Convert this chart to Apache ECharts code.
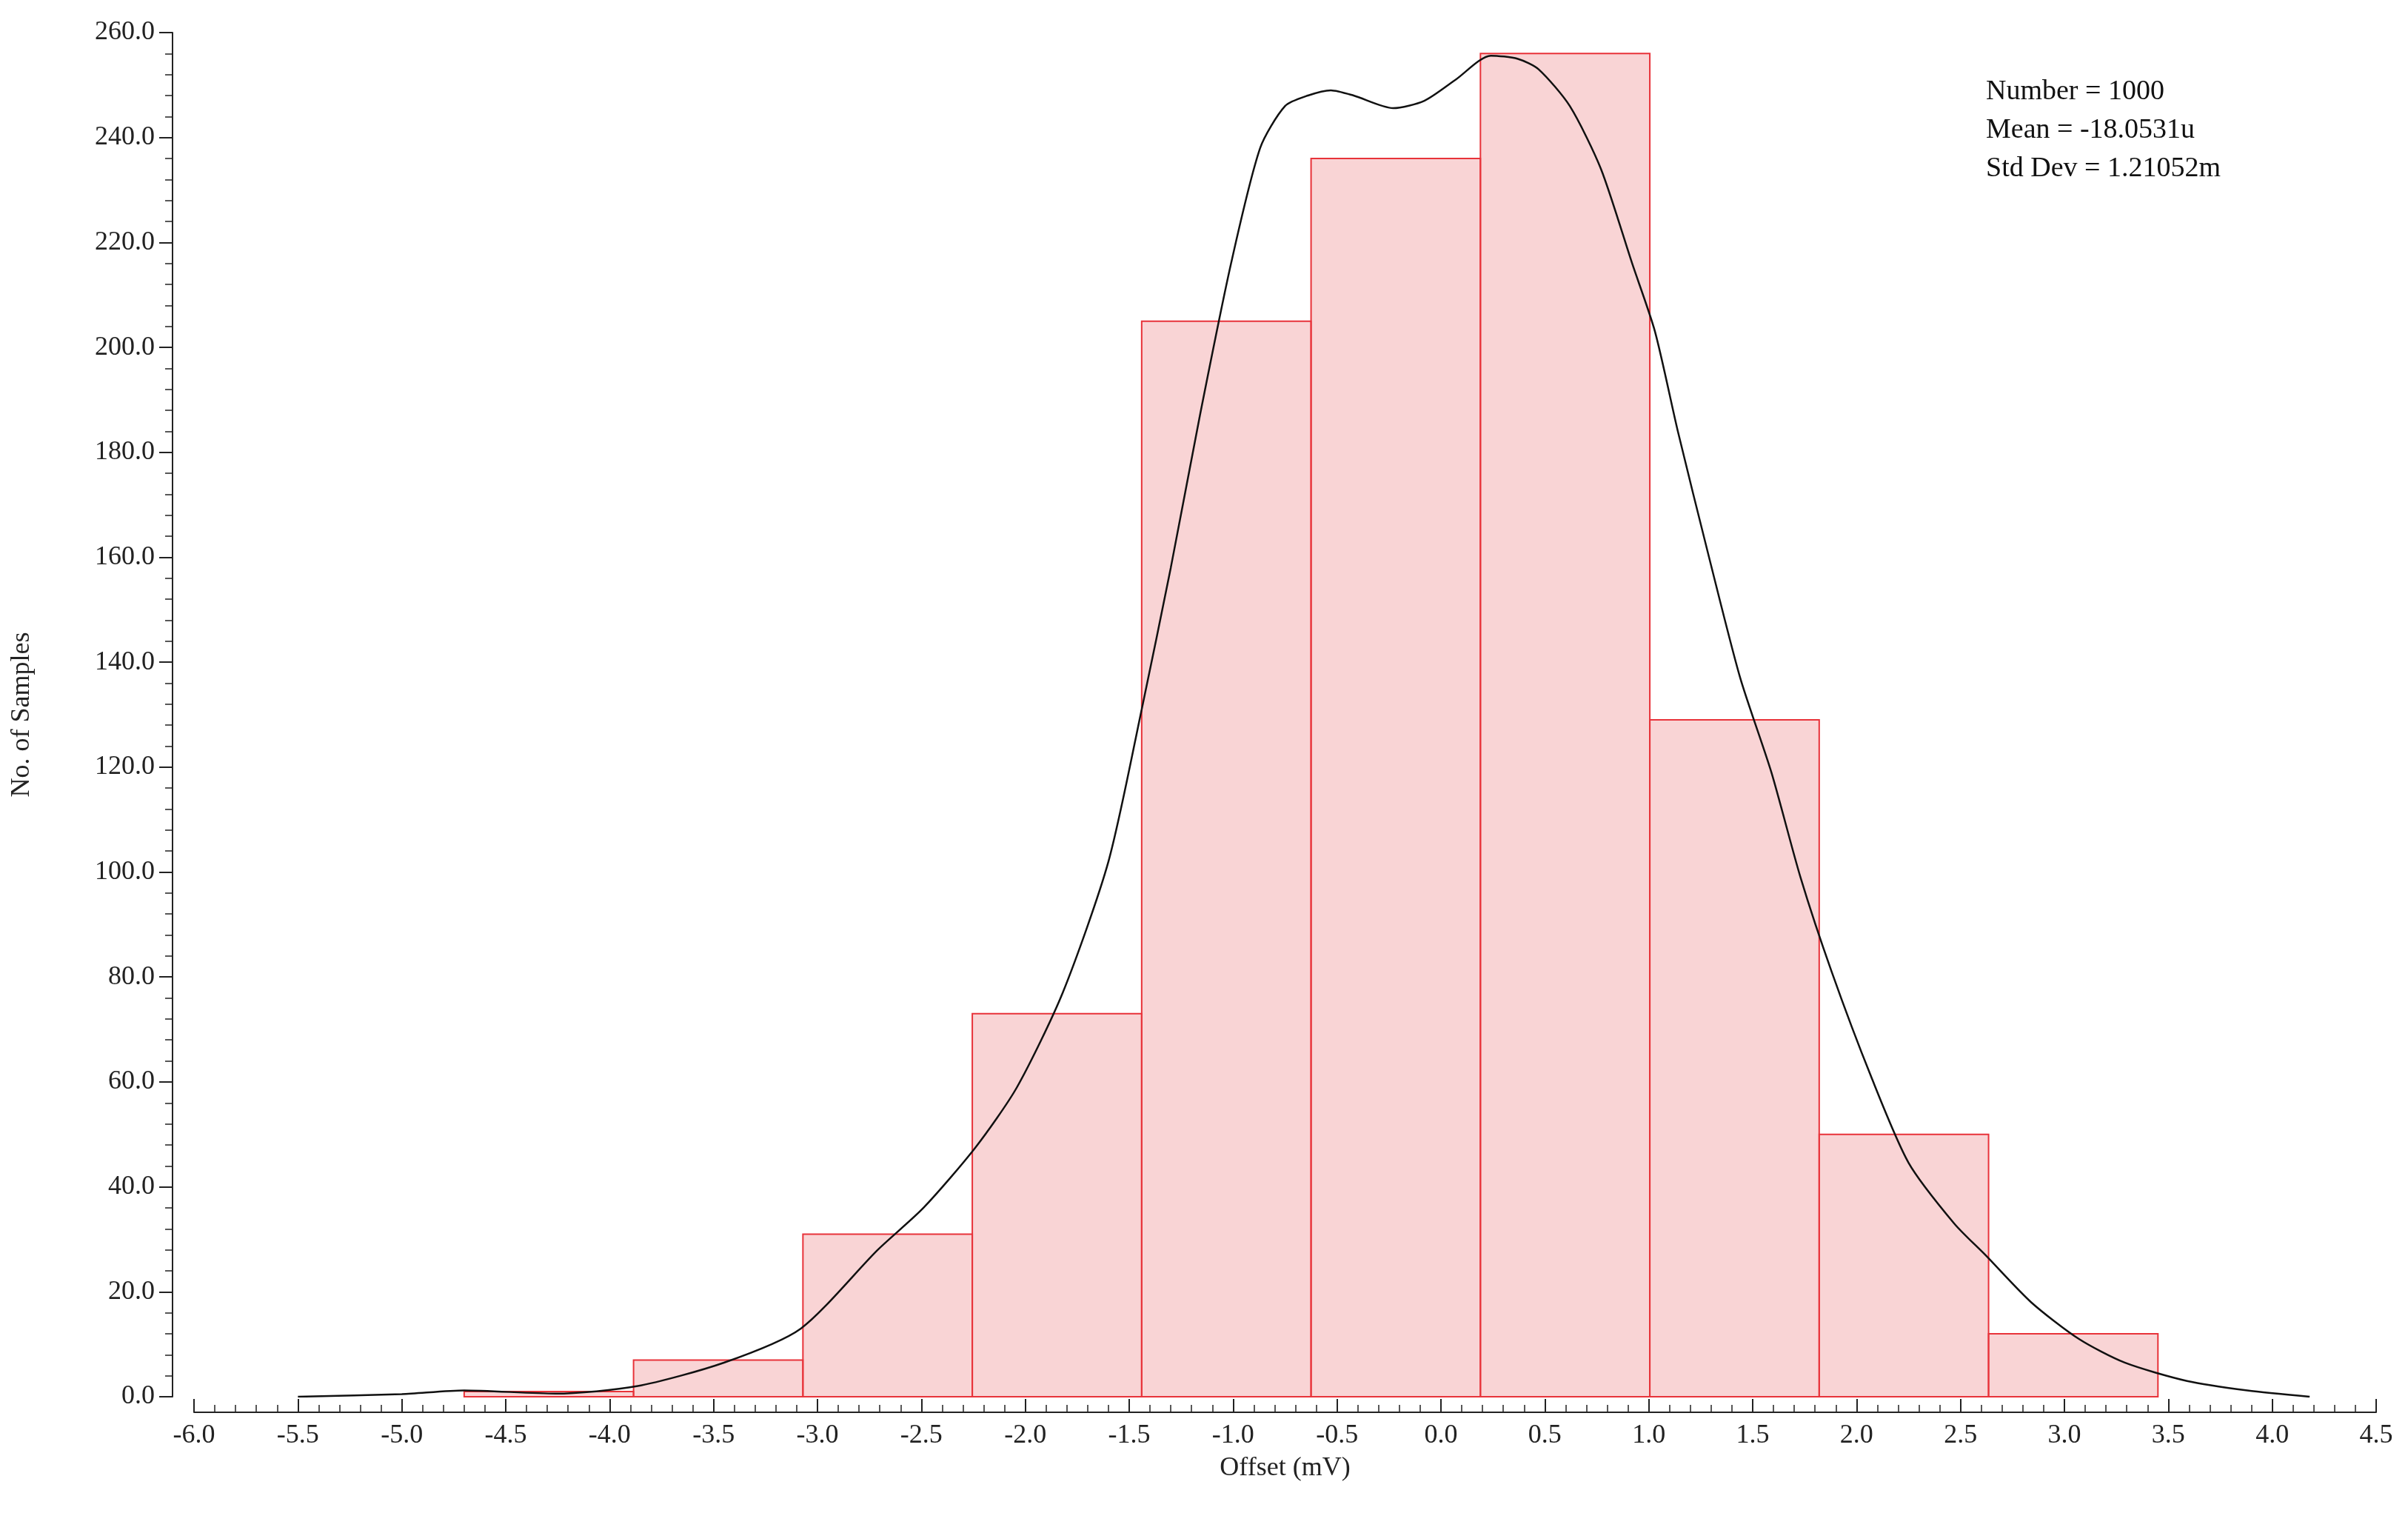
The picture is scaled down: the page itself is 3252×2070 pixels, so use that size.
<!DOCTYPE html>
<html><head><meta charset="utf-8">
<script src="https://cdn.jsdelivr.net/npm/echarts@6/dist/echarts.min.js"></script>
<style>html,body{margin:0;padding:0;background:#fff}#c{width:3252px;height:2070px}</style>
</head><body><div id="c"></div>
<script>
const binStarts = [-4.70,-3.885,-3.07,-2.255,-1.44,-0.625,0.19,1.005,1.82,2.635];
const binWidth = 0.815;
const counts = [1,7,31,73,205,236,256,129,50,12];
const curveX = [-5.5,-5.0,-4.7,-4.26,-3.87,-3.45,-3.08,-2.71,-2.49,-2.24,-2.04,-1.82,-1.6,-1.44,-1.3,-1.16,-1.01,-0.87,-0.75,-0.64,-0.53,-0.42,-0.23,-0.08,0.07,0.24,0.37,0.47,0.62,0.77,0.92,1.03,1.14,1.29,1.44,1.59,1.73,1.88,2.07,2.25,2.47,2.62,2.84,3.07,3.29,3.59,3.88,4.18];
const curveY = [0,0.5,1.2,0.6,2,6.5,13,28,36,47.5,59,77,102,131,158,187,216,238,246,248,249,248,245.6,247,251,255.6,255,253,246,234,216,203,184,160,137,119,99,81,61,44.6,33,27,18,11,6.5,3,1.2,0];
const statsText = ['Number = 1000','Mean = -18.0531u','Std Dev = 1.21052m'];

const font = 'Liberation Serif';
const chart = echarts.init(document.getElementById('c'));
const barData = binStarts.map((s,i)=>[s, s+binWidth, counts[i]]);
chart.setOption({
  animation:false,
  grid:{left:262,right:43,top:44,bottom:184},
  xAxis:{type:'value',min:-6,max:4.5,interval:0.5,offset:21,
    name:'Offset (mV)',nameLocation:'middle',nameGap:58,
    nameTextStyle:{fontFamily:font,fontSize:36,color:'#222'},
    axisLine:{onZero:false,lineStyle:{color:'#222',width:2}},
    axisTick:{inside:true,length:18,lineStyle:{color:'#222',width:2}},
    minorTick:{show:true,splitNumber:5,length:10,lineStyle:{color:'#222',width:1.5}},
    axisLabel:{fontFamily:font,fontSize:36,color:'#222',margin:14,formatter:v=>v.toFixed(1)},
    splitLine:{show:false}},
  yAxis:{type:'value',min:0,max:260,interval:20,offset:29,position:'left',
    name:'No. of Samples',nameLocation:'middle',nameGap:185,nameRotate:90,
    nameTextStyle:{fontFamily:font,fontSize:36,color:'#222'},
    axisLine:{show:true,onZero:false,lineStyle:{color:'#222',width:2}},
    axisTick:{show:true,length:18,lineStyle:{color:'#222',width:2}},
    minorTick:{show:true,splitNumber:5,length:10,lineStyle:{color:'#222',width:1.5}},
    axisLabel:{fontFamily:font,fontSize:36,color:'#222',margin:24,formatter:v=>v.toFixed(1)},
    splitLine:{show:false}},
  graphic:[{type:'text',left:2682,top:98,style:{text:statsText.join('\n'),font:'38px "Liberation Serif"',fill:'#111',lineHeight:52}}],
  series:[
    {type:'custom',data:barData,renderItem:(params,api)=>{
      const p0=api.coord([api.value(0),api.value(2)]);
      const p1=api.coord([api.value(1),0]);
      return {type:'rect',shape:{x:p0[0],y:p0[1],width:p1[0]-p0[0],height:p1[1]-p0[1]},
        style:{fill:'rgba(235,120,125,0.32)',stroke:'#e8333a',lineWidth:2}};
    },encode:{x:[0,1],y:2}},
    {type:'line',data:curveX.map((x,i)=>[x,curveY[i]]),smooth:0.25,symbol:'none',
      lineStyle:{color:'#111',width:2.5},z:5}
  ]
});
</script></body></html>
